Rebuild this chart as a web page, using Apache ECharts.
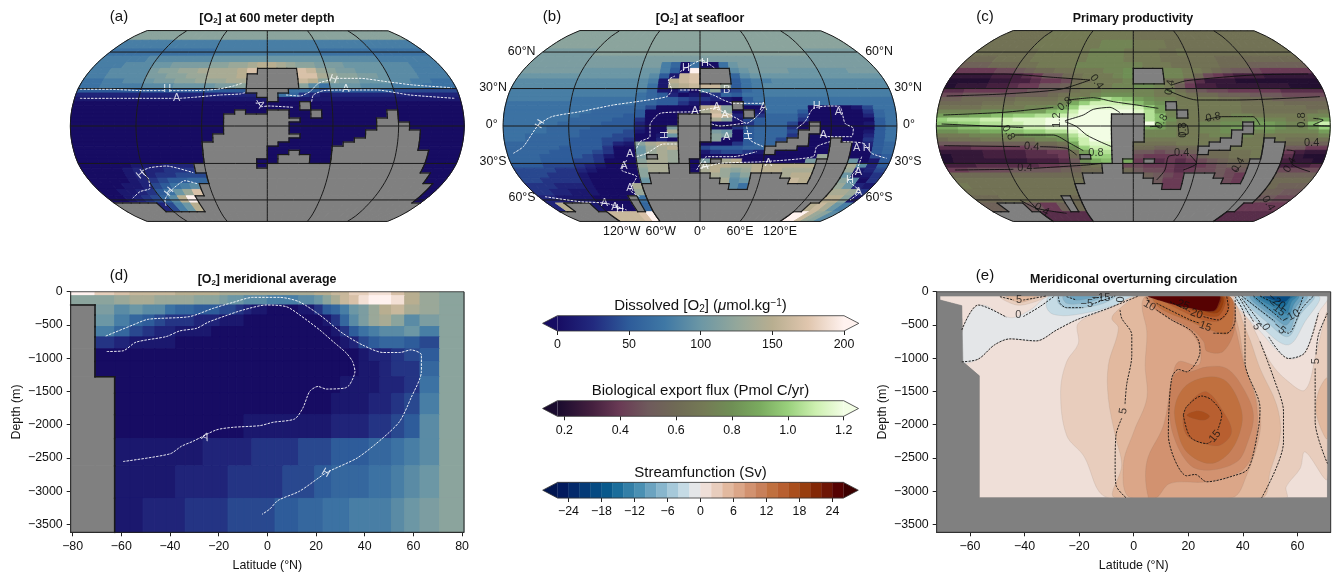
<!DOCTYPE html>
<html>
<head>
<meta charset="UTF-8">
<title>Ocean oxygen panels</title>
<script src="https://cdn.jsdelivr.net/npm/echarts@6/dist/echarts.min.js"></script>
<style>
html, body { margin: 0; padding: 0; background: #fff; }
#chart { width: 1338px; height: 573px; }
</style>
</head>
<body>
<div id="chart"></div>
<script>
// one char per model cell, 36 longitudes by 36 sin(lat) rows, north at the top
// '#' is land, otherwise parseInt(char, 36) * 10 = [O2]
const o2At600 = [
"cccccc cccccc cccccc cccccc cccccc cccccc",
"888888 888888 888888 888888 888888 888888",
"777777 777777 888888 888888 777777 777777",
"888889 999999 aaaaaa aaaaaa 999999 888888",
"888999 aabbbb ccddef fedccb bbaaaa 999888",
"889999 bccdde eeefh# ###hgd cbbaaa 999888",
"889999 bbccdd eeef## ###hhe dccbba 999888",
"778899 abbccd ddee## ###gfc cbbaaa 998877",
"778888 999aaa abbc## ###c97 aaa999 888777",
"555555 555555 5555## ##7754 555555 444444",
"222222 222222 22222# #76321 222222 222222",
"111111 111111 111111 #11111 111111 111111",
"000000 000000 000000 000#00 000000 000000",
"000000 000000 000000 000#00 000000 000000",
"000000 000000 000#00 ##00#0 00000# 000000",
"000000 000000 00#### ##00#0 00000# 000000",
"000000 000000 00#### ###000 0000## 000000",
"000000 000000 00#### ##0000 0000## #00000",
"000000 000000 00#### ##0000 0000## #00000",
"000000 000000 00#### ##0000 000### ##0000",
"000000 000000 0##### ###000 000### ##0000",
"000000 000000 0##### ##0000 00#### ##0000",
"000000 000000 ###### #00000 0##### ##0000",
"000000 000000 ###### 000000 ###### ##0000",
"000000 000000 ###### 00#000 ###### ###000",
"000000 000000 ###### 0###00 ###### ###000",
"000000 000000 #####0 0###00 ###### ###000",
"000001 11222# #####0 ###### ###### ###000",
"000012 22333# ###### ###### ###### ###000",
"000012 233444 ###### ###### ###### ####00",
"000012 345566 ###### ###### ###### ####00",
"000112 45789# ###### ###### ###### #####0",
"001123 57adh# ###### ###### ###### #####0",
"001234 69fk## ###### ###### ###### #####0",
"#####2 48af## ###### ###### ###### ######",
"###### ###### ###### ###### ###### ######"];

const o2AtSeafloor = [
"cccccc cccccc cccccc cccccc cccccc cccccc",
"cccccc cccccc cccccc cccccc cccccc cccccc",
"bbbbbb cccccc cccccc cccccc cccccc bbbbbb",
"bbbbbb bbbbbb bbbbbb bbbbbb bbbbbb bbbbbb",
"bbbbbb bbbbbb bb8607 007abb bbbbbb bbbbbb",
"bbbbbb aaaaaa aa850k ###9ab bbbaaa aaabbb",
"aaaaaa aaaaaa a951gh ###69a aaaaaa aaaaaa",
"999999 999999 981fgh ###578 899999 999999",
"999999 999999 971efg ggd578 999999 999999",
"888888 888888 861130 9c3467 888888 888888",
"888888 888888 765201 136577 888888 888888",
"888888 777777 765543 321057 777777 777777",
"777777 777777 665531 100#56 777777 777777",
"777777 777666 640000 fgc#00 777700 001477",
"777777 776666 500000 egc0#1 777500 000367",
"777777 766665 5000## #hg2#3 666400 000267",
"777777 666655 3000## #ec145 666300 000057",
"777776 666555 2000## #00035 6640#0 000157",
"777766 665555 200b## #00356 6630#0 000057",
"777766 655554 100e## #ba056 664##0 000157",
"776666 655544 001a## #cb056 663#00 000257",
"776666 555443 0020## #c0056 64##00 #00357",
"666666 555421 cefe## 000356 6###00 ##0256",
"666665 555300 adef## 455566 ###000 ##0156",
"666655 554300 aded## 134431 #00000 ##0056",
"666555 543100 b#ed## 000000 00000d ##0045",
"666555 443000 ceed#0 b#ef00 0000b# ##a015",
"555444 321000 dee##0 effeef fffff# ##e925",
"444433 210000 cee##0 efdcdf ffeee# ##d124",
"444333 100000 c##### #edac# ##eff# ##a013",
"443333 100000 a##### ##e9a# ###gf# ##c903",
"333222 10000e ###### ###97# ###### ##da21",
"332211 10000d ###### ###### ###### ##eed3",
"221111 0000#7 ###### ###### ###### ##ffc1",
"2f###1 0000#6 ###### ###### ###### #fgea8",
"###### gggghk ###### ###### ###### kkgdc9"];

// parseInt(char, 36) * 0.05 = export flux; land comes from the seafloor mask
const exportFlux = [
"dddddd eeeeee eeeeee dddddd dddddd dddddd",
"dddddd eeeeee eeffff eeeedd dddddd dddddd",
"dddddd deeeee effffe eeedde dddddd dddddd",
"cccddd deeeee effffe eeeddd dddccc cccccc",
"bbbccc ddeeee ffffff feeedd dddccc bbbbbb",
"888899 abccdd eeeffg fffffe edcbaa 988888",
"555566 678aac deeefg fffffe c98766 655555",
"444455 667889 cdeeef fffdd9 755544 444444",
"455566 788aab deeeff ggfeb8 665555 555444",
"778888 99aabb deefff ffefdb a99888 887777",
"99aaaa abbbcd eefggg ffeeed ccbbba aa9999",
"bbcccc cdddde fhilkj hgffee eeddcc cbbbbb",
"ccccdd deeeef ikmmml jhgfee eeeedd ddcccc",
"ddddee eeffgh knnnnn mkhfee eeeedd ddddcc",
"ffffgg gghhjk mooooo nlhfee eeeedd ddddde",
"hhhiij jkkllm nooooo oljfee eeeffe eeeeff",
"klllmm mnnnoo oooooo oljgee eeffgg ffeefi",
"jjkkll mmnnoo oooooo ooifee ffgghh hgffjm",
"iijjkk llmmnn oooooo lihfee ffghhh hgffhk",
"gghhii jjkkll nooooo ffffee ffggff gffffh",
"eeefff ffgghh lnoooo ffffee effffe eeeeef",
"cdddee eeeffg kmoooo feeeee eeeeee eedddd",
"aaabbb bbbccd imnnoo ddddee eeeeee eeccbb",
"777888 889aab gkmmnn ccbbcc ddeeee ddaa88",
"555566 667788 dhklln aa9aab bccdde ee8655",
"455566 667778 chkklk 988889 bccdde e97544",
"455555 556667 agijji 877878 9abccd d96554",
"666777 777889 acdee9 988877 89abba 986667",
"889999 aaaaab bccccc a99878 99a9aa aa9999",
"cccccc cccccc cccccc cba988 8aa988 bbbbbb",
"dddddd dddddd dddddd cba888 9ba988 cccccc",
"eddddd dddddd dddddd cba889 abb999 cccbbb",
"dddddd dddddd dddddd ccbbbb bbbbbb bbbbaa",
"cccddd ddddcc cccccc bbbbbb bbbaaa aaaa99",
"bbbbaa a88bcc cccccc bbbbaa aa8888 888888",
"aaaa88 777777 cccccc aaaaaa 997777 777777"];

// meridional mean [O2], columns south to north, rows top to bottom
const o2Section = [
"kihggg gfffff eeeeee eeeeee ffggii jjhfdc",
"ccdeed dddccc baa999 888899 aceghj kkjfdc",
"#b9a99 766555 443211 000011 3568ab dfgedc",
"#a8654 333222 111000 000000 01369b dec9bc",
"#86432 211110 000000 000000 001357 899a8c",
"#32111 100000 000000 000000 000124 56654c",
"#00000 000000 000000 000000 000001 22345c",
"#00000 000000 000000 000000 000001 12336c",
"##0000 000000 000000 000000 000111 12237c",
"##0000 000000 000000 000000 001111 22348c",
"##0000 000000 000111 111111 112222 33459c",
"##1111 111122 222233 333344 445555 66789c",
"##1111 122222 233333 334444 556666 7789ac",
"##1122 223333 344444 455566 677788 889abc"];
const sectionDepths = [0,-60,-200,-350,-525,-680,-860,-1050,-1280,-1530,-1850,-2210,-2620,-3110,-3620];

// filled streamfunction levels [level, outline of [lat, depth]], painted in order
const mocOcean = [[-71,-65],[71,-65],[71,-3100],[-56.6,-3100],[-56.6,-1265],[-62.6,-1055],[-63,-210],[-71,-125]];
const mocLand = [
[[-72.2,0],[72.2,0],[72.2,-65],[-72.2,-65]],
[[72.2,-65],[72.2,-3620],[71,-3620],[71,-65]],
[[-72.2,-65],[-71,-65],[-71,-125],[-63,-210],[-62.6,-1055],[-56.6,-1265],[-56.6,-3100],[71,-3100],[71,-3620],[-72.2,-3620]]];
const mocFilled = [
[-1,[[-63,-1055],[-57,-1015],[-51,-800],[-45.4,-710],[-35.6,-740],[-28.2,-575],[-21,-425],[-8.7,-240],[1.7,-65],[-30.7,-65],[-38,-275],[-45.4,-390],[-56.4,-200],[-62.5,-550]]],
[3,[[-49,-65],[-43,-200],[-36.8,-160],[-32,-65]]],
[5,[[-46.6,-65],[-42.3,-160],[-38,-125],[-35,-65]]],
[-3,[[-30.7,-65],[-32,-225],[-29.5,-340],[-22,-350],[-8.7,-225],[0,-65]]],
[-5,[[-27.6,-65],[-27.6,-175],[-24.6,-250],[-18.5,-240],[-11,-175],[-6.8,-65]]],
[-7,[[-25.8,-65],[-24.6,-175],[-18.5,-175],[-13.6,-125],[-11,-65]]],
[-9,[[-23.3,-65],[-21.5,-125],[-16,-100],[-13.6,-65]]],
[3,[[-9.3,-3100],[-18.5,-2460],[-24.6,-2160],[-26.8,-1505],[-24.6,-1055],[-20.3,-780],[-20.3,-475],[-8.7,-250],[1.1,-65],[36.6,-65],[43.9,-550],[50,-1055],[56,-1330],[62.8,-1480],[67,-905],[71,-325],[71,-2810],[62.8,-2410],[61,-2660],[55.9,-2935],[55.9,-3100]]],
[-1,[[37.2,-65],[47.5,-650],[56.7,-1005],[62.8,-905],[67.7,-325],[71,-65]]],
[-3,[[37.8,-65],[47.5,-550],[56.7,-800],[62.8,-450],[67.7,-65]]],
[-5,[[40.2,-65],[50,-500],[56.7,-675],[61,-350],[65.9,-65]]],
[-7,[[41.4,-65],[51.2,-450],[56.7,-600],[59.8,-300],[63.4,-65]]],
[-9,[[42.7,-65],[51.8,-400],[56.1,-500],[59.2,-250],[61.6,-65]]],
[-11,[[43.9,-65],[52.4,-350],[56.1,-425],[58.6,-200],[60.4,-65]]],
[-13,[[45.1,-65],[53,-275],[56.1,-325],[57.9,-150],[59.8,-65]]],
[-15,[[46.3,-65],[53,-210],[55.5,-225],[57.6,-100],[59.2,-65]]],
[-19,[[47.5,-65],[53,-150],[55.5,-150],[57.3,-65]]],
[5,[[-6.8,-3100],[-4.4,-2610],[-6.8,-2160],[-9.3,-1605],[-9.3,-1105],[-5.6,-550],[-8,-400],[-5,-250],[2.3,-65],[34,-65],[41.4,-600],[46.3,-1155],[52.4,-1705],[53.7,-2160],[50,-2710],[47,-3100]]],
[5,[[71,-1305],[67.7,-1505],[67,-1855],[71,-2210]]],
[7,[[-1,-3100],[-3.8,-2610],[0,-2110],[4.8,-1605],[4.2,-1105],[4.8,-600],[3,-200],[4.8,-65],[32.9,-65],[37.8,-450],[40.8,-1105],[45.7,-1705],[46.3,-2110],[41.4,-2760],[36,-3100]]],
[9,[[5.4,-3100],[4.8,-2560],[10.9,-2010],[13.9,-1355],[16.4,-1055],[23.7,-1105],[24.3,-855],[20.7,-600],[12.7,-400],[4.2,-100],[5.4,-65],[32.3,-65],[36.6,-450],[40.2,-1055],[45.1,-1705],[43.9,-2410],[39,-2710],[26.8,-2860],[13.3,-2885],[8.4,-3100]]],
[11,[[6,-65],[7.2,-250],[20.7,-550],[25.6,-750],[26.8,-895],[32.9,-895],[37.2,-500],[34.7,-65]]],
[11,[[13.9,-1330],[16.4,-1205],[20.7,-1205],[26.8,-1130],[34.1,-1155],[40.2,-1455],[43.9,-1855],[41.4,-2310],[37.8,-2560],[28,-2685],[20.7,-2610],[14.5,-2160],[13,-1655]]],
[13,[[7.2,-65],[9.7,-250],[20.7,-450],[28,-575],[34.7,-625],[36.6,-250],[34.7,-65]]],
[13,[[15.2,-1705],[19.4,-1405],[28,-1280],[34.1,-1355],[39,-1705],[39.6,-2010],[35.3,-2410],[28,-2585],[19.4,-2410],[15.8,-2060]]],
[15,[[9.7,-65],[20.7,-350],[30.4,-450],[34.7,-300],[34.1,-65]]],
[15,[[18.2,-1855],[21.9,-1605],[26.8,-1505],[32.9,-1805],[35.9,-2110],[31.7,-2310],[25.6,-2285],[19.4,-2160]]],
[17,[[19.4,-1855],[23.7,-1790],[27.8,-1865],[26.2,-1930],[22.5,-1915]]],
[17,[[10.3,-65],[20.7,-275],[30.4,-375],[33.5,-200],[32.9,-65]]],
[19,[[10.9,-65],[20.7,-225],[30.4,-325],[32.9,-175],[32.3,-65]]],
[21,[[11.5,-65],[20.7,-190],[29.2,-300],[32,-150],[31.7,-65]]],
[25,[[5.4,-65],[10.9,-150],[20.7,-250],[29.2,-290],[31.4,-150],[31.4,-65]]]
];

// contour lines; map panels are in projected units, sections in lat/depth
const contoursA = [
[[-562,110],[-472,110],[-372,106],[-307,106]],[[-293,106],[-222,106],[-152,110],[-102,120],[-77,128]],
[[56,93],[98,90],[128,103],[153,128],[188,138]],[[208,143],[278,143],[358,133],[438,123],[553,115]],
[[-562,83],[-472,83],[-372,83],[-282,83]],[[-262,83],[-222,86],[-142,93],[-82,96],[-67,100]],
[[133,73],[138,93],[168,106],[228,108]],[[244,108],[328,108],[428,93],[563,83]],
[[-32,78],[-17,58],[3,60],[78,56]],
[[-404,-217],[-382,-197],[-352,-187],[-357,-157],[-377,-137],[-352,-125],[-302,-120],[-222,-140]],
[[-304,-240],[-307,-222],[-287,-192],[-247,-164],[-207,-174]]];
const labelsA = [[-300,110,'H',0],[-272,85,'A',0],[198,140,'H',-20],[236,110,'A',0],[-22,65,'A',-60],[-379,-145,'H',40],[-294,-197,'H',50]];
const contoursB = [
[[-560,-82],[-530,-62],[-485,3],[-445,28],[-360,43],[-260,63],[-190,73],[-100,88],[-85,108],[-95,138],[-75,150]],
[[-60,108],[-10,108],[40,93],[70,78],[100,68],[190,68]],
[[-190,-67],[-180,-47],[-150,-32],[-150,3],[-120,38],[-20,43],[40,53],[80,38],[110,23],[140,8],[170,28],[195,58]],
[[35,6],[60,0],[130,8]],
[[140,-2],[150,-42],[190,-62]],
[[-10,-132],[20,-92],[100,-92],[170,-77]],
[[0,-127],[60,-112],[190,-107],[340,-92],[350,-62],[390,-47]],
[[290,-7],[315,13],[340,53],[390,60],[420,58],[435,8],[460,-7],[455,-32],[390,-32],[360,-27]],
[[430,-47],[490,-52],[515,-82],[560,-97]],
[[485,-92],[470,-132],[445,-162],[480,-197],[450,-222]],
[[-190,-92],[-160,-82],[-110,-54],[-70,-54]],
[[-220,-102],[-235,-132],[-190,-152],[-210,-192],[-180,-212]],
[[-465,-212],[-360,-227],[-280,-232],[-220,-252]],
[[-60,163],[-35,178],[5,198],[45,173]]];
const labelsB = [[-42,173,'H',0],[15,188,'H',0],[-105,-27,'H',90],[148,-30,'H',90],[-210,-84,'A',0],[-228,-120,'A',0],[-210,-187,'A',0],[-287,-232,'A',0],[-255,-242,'A',0],[-240,-249,'H',0],[50,58,'A',0],[-15,46,'A',0],[75,33,'A',0],[-480,6,'H',60],[15,-119,'A',0],[80,-34,'A',0],[190,58,'A',0],[205,-112,'A',0],[370,-27,'A',0],[415,43,'A',0],[350,60,'H',0],[470,-67,'A',0],[500,-67,'H',0],[475,-137,'A',0],[450,-162,'H',0],[475,-197,'A',0],[80,108,'B',0]];
const contoursC = [
[[-540,156],[-390,156],[-240,146],[-130,138]],
[[-560,90],[-390,96],[-220,110],[-130,138]],
[[-570,33],[-390,41],[-240,56]],
[[-195,78],[-120,85],[-60,73],[10,63],[75,53]],
[[-205,16],[-150,33],[-120,50],[-70,56],[-40,40]],
[[-205,13],[-170,-2],[-140,-27],[-100,-47],[-65,-62]],
[[-575,6],[-390,-2],[-330,-5]],
[[-355,-27],[-240,-27],[-190,-52],[-150,-74]],
[[-568,-59],[-340,-62]],[[-280,-62],[-200,-67],[-170,-87]],
[[-535,-132],[-360,-130]],[[-300,-127],[-140,-117],[-95,-112]],
[[115,123],[160,136],[360,153],[525,156]],
[[100,108],[150,88],[190,78],[310,78],[560,88]],
[[215,18],[265,28],[360,28],[380,3]],
[[135,3],[160,3],[165,-22],[140,-27],[135,3]],
[[50,-2],[80,0]],
[[70,-162],[95,-132],[105,-92],[125,-87]],[[170,-87],[190,-112],[150,-132]],
[[320,-122],[305,-137]],
[[460,-72],[485,-77],[475,-112],[530,-137]],
[[-340,-222],[-290,-247],[-200,-262]],
[[540,23],[570,18],[540,3],[590,0]]];
const labelsC = [[-110,133,'0.4',-55],[-205,66,'0.8',40],[-230,18,'1.2',90],[-375,-20,'0.8',-60],[-112,-80,'0.8',0],[-305,-62,'0.4',-5],[-325,-127,'0.4',0],[145,-80,'0.4',0],[240,26,'0.8',10],[535,-50,'0.4',0],[507,18,'0.8',90],[315,-117,'0.4',60],[470,-117,'0.4',60],[85,13,'0.8',60],[150,-12,'0.8',90],[110,116,'0.4',80],[-275,-250,'0.4',-30],[405,-232,'0.4',-60]];

const contourDH = [[-66.4,-667],[-55.2,-500],[-49,-415],[-32,-375],[-22.3,-250],[-14,-160],[-6,-85],[5,-85],[13,-150],[21.5,-350],[31,-627],[39,-800],[47.5,-915],[54.4,-915],[59,-875],[63.3,-950],[63.3,-1200],[59,-1600],[54.4,-1950],[47.5,-2200],[37,-2500],[24.2,-2725],[13.3,-3000],[4.4,-3140],[1,-3270],[-2.2,-3350]];
const contourDA = [[-66,-900],[-59.3,-890],[-54,-760],[-41.5,-675],[-36,-590],[-29,-550],[-24.4,-460],[-17,-360],[-10,-275],[-0.4,-200],[7.8,-225],[13.3,-350],[21.5,-575],[27,-750],[32.5,-925],[35,-1050],[36,-1200],[33.8,-1400],[31.8,-1450],[24.2,-1465],[20.8,-1425],[17.4,-1500],[14.6,-1750],[11.2,-1915],[2.3,-1965],[-3,-2015],[-14,-2040],[-21,-2080],[-30.5,-2250],[-35.3,-2325],[-40,-2440],[-59.3,-2555]];
const labelsD = [[-25.5,-2190,'A',-20],[24,-2725,'H',-30]];

const contoursE = [
[[-63,-1055],[-57,-1015],[-51,-800],[-45.4,-710],[-35.6,-740],[-28.2,-575],[-21,-425],[-8.7,-240],[1.7,-65]],
[[-63,-575],[-57,-200],[-46.6,-385]],[[-40.5,-375],[-34.4,-225],[-29,-65]],
[[-49,-75],[-44,-125]],[[-40.5,-125],[-36.8,-100],[-32,-65]],
[[-27.6,-75],[-27,-175],[-24.6,-240],[-18.5,-240]],[[-15.4,-190],[-11,-125],[-6.8,-65]],
[[-24.6,-75],[-21,-125]],[[-14.8,-100],[-11,-75]],
[[-5,-275],[-4.4,-400],[-0.7,-650],[-0.7,-955],[-2.6,-1405],[-3.2,-1705]],[[-4.4,-1905],[-6.5,-2160],[-6.8,-2610],[-6.5,-2910],[-2.8,-3100]],
[[4.8,-85],[5.7,-160]],[[8.4,-275],[13.9,-425],[20.7,-575],[23.7,-730],[24.3,-905],[19.4,-1205],[16.4,-1170],[13.9,-1305],[12.7,-2160],[19.4,-2770],[22.5,-2750],[26.8,-2860],[36.6,-2770],[42,-2660],[45.7,-2060],[46.3,-1755],[40.8,-1055],[40.8,-400],[37.2,-75]],
[[38.4,-65],[43.9,-450]],[[46.3,-750],[51.8,-1355],[54.9,-1805],[54.9,-2260],[46.9,-3100]],
[[39.6,-100],[47,-500]],[[49.5,-680],[56.7,-1005],[62.8,-915],[67.7,-325]],
[[39.6,-65],[51.8,-450]],[[55,-600],[56.7,-625],[61.7,-250],[65.9,-65]],
[[43.9,-65],[54.3,-425]],[[60,-300],[61,-200],[62.2,-65]],
[[46.3,-65],[51.8,-175]],
[[71,-325],[67.7,-650],[66.8,-950]],[[66.5,-1155],[66.5,-1955],[71,-2585]],
[[18.2,-1855],[19.4,-1730],[24.9,-1570],[28.6,-1630],[32.3,-1855],[30.8,-2080]],[[28.5,-2250],[26.8,-2285],[20.7,-2185],[18.2,-1855]],
[[8.4,-175],[20.7,-425],[24.3,-475]],[[29.2,-625],[34.1,-625],[37.2,-425],[37.2,-100]],
[[13.3,-150],[20.7,-300]],[[25.6,-375],[31,-425],[34.7,-250],[34.1,-75]]];
const labelsE = [[-42.3,-350,'0',0],[-42,-125,'5',0],[-17.2,-190,'−5',0],[-12,-100,'−15',0],[-4.6,-115,'0',90],[-3.8,-1795,'5',80],[5.8,-210,'10',-30],[18.2,-200,'25',-20],[23,-335,'20',-20],[26.2,-525,'15',-20],[29.8,-2175,'15',50],[45.1,-525,'5',-60],[48.4,-535,'0',-60],[53.4,-550,'−5',-40],[57.6,-375,'−10',30],[52.4,-250,'−15',-40],[52.4,-150,'−20',-40],[66.7,-1045,'5',90]];

// colour scales and axis ticks
const o2Ramp = [[0,'#170c63'],[25,'#222a7f'],[50,'#2e5c9a'],[75,'#3f78a5'],[100,'#6c97a5'],[125,'#93a79b'],[150,'#b8ae90'],[175,'#e0c6ae'],[200,'#fff2ef']];
const fluxRamp = [[0.175,'#1a0b2e'],[0.3,'#45203f'],[0.4,'#6a3b55'],[0.5,'#6f5a5c'],[0.6,'#6f6a55'],[0.7,'#747a55'],[0.8,'#6f8f55'],[0.9,'#7aab5f'],[1.0,'#99d07c'],[1.1,'#cdf0b0'],[1.2,'#f2fde4']];
const streamEdges = [-26,-24,-22,-20,-18,-16,-14,-12,-10,-8,-6,-4,-2,0,2,4,6,8,10,12,14,16,18,20,22,24,26];
const streamColors = ['#021a5e','#03296b','#043a77','#054a82','#08598c','#1a6d9b','#337fa7','#4a90b3','#6ba3c0','#88b6cd','#a6c9da','#c5dbe5','#e4e6e8','#efdfd8','#e8cdbd','#e2b99f','#dba688','#d29270','#c8805a','#c0703f','#b85f30','#aa4e1c','#983d0d','#832706','#6e1505','#560202'];
const depthTicks = [0,-500,-1000,-1500,-2000,-2500,-3000,-3500];
const latTicksD = [-80,-60,-40,-20,0,20,40,60,80];
const latTicksE = [-60,-40,-20,0,20,40,60];
const o2Ticks = [0,50,100,150,200];
const fluxTicks = [0.2,0.4,0.6,0.8,1.0,1.2];
const streamTicks = [-24,-18,-12,-6,0,6,12,18,24];

// Robinson table
const rbLat = [0,5,10,15,20,25,30,35,40,45,50,55,60,65,70,75,80,85,90];
const rbX = [1,.9986,.9954,.99,.9822,.973,.96,.9427,.9216,.8962,.8679,.835,.7986,.7597,.7186,.6732,.6213,.5722,.5322];
const rbY = [0,.062,.124,.186,.248,.31,.372,.434,.4958,.5571,.6176,.6769,.7346,.7903,.8435,.8936,.9394,.9761,1];
const MAP_X = 591, MAP_Y = 302, MAP_H = 286.5, LAT_CLIP = 81.2;

function robin(lon, lat) {
  const a = Math.abs(lat), i = Math.min(17, Math.floor(a / 5)), t = (a - rbLat[i]) / 5;
  const x = rbX[i] + (rbX[i + 1] - rbX[i]) * t, y = rbY[i] + (rbY[i + 1] - rbY[i]) * t;
  return [MAP_X * x * lon / 180, MAP_Y * y * Math.sign(lat)];
}
function edgeLat(k, clip) {
  const lat = Math.asin(1 - k / 18) * 180 / Math.PI;
  return Math.max(-clip, Math.min(clip, lat));
}
const mapCorner = (c, k) => robin(-180 + 10 * c, edgeLat(k, LAT_CLIP));
const sectionCorner = (c, k) => [-edgeLat(c, 80.8), sectionDepths[k]];
const strip = rows => rows.map(s => s.replace(/ /g, ''));

function rampColor(ramp, v) {
  v = Math.max(ramp[0][0], Math.min(ramp[ramp.length - 1][0], v));
  for (let i = 1; i < ramp.length; i++) {
    if (v <= ramp[i][0]) {
      const t = (v - ramp[i - 1][0]) / (ramp[i][0] - ramp[i - 1][0]);
      const a = echarts.color.parse(ramp[i - 1][1]), b = echarts.color.parse(ramp[i][1]);
      return 'rgb(' + [0, 1, 2].map(j => Math.round(a[j] + (b[j] - a[j]) * t)).join(',') + ')';
    }
  }
}
function streamColor(level) {
  return streamColors[streamEdges.findIndex((e, i) => level >= e && level < streamEdges[i + 1])];
}

function cellSeries(g, rows, mask, corner, colorOf) {
  const data = [];
  rows.forEach((row, r) => { for (let c = 0; c < row.length; c++) data.push([c, r]); });
  return {
    type: 'custom', xAxisIndex: g, yAxisIndex: g, silent: true, clip: true, data: data, animation: false,
    renderItem: function (p, api) {
      const c = data[p.dataIndex][0], r = data[p.dataIndex][1];
      const land = mask[r][c] === '#';
      const col = land ? '#808080' : colorOf(rows[r][c]);
      const pts = [corner(c, r), corner(c + 1, r), corner(c + 1, r + 1), corner(c, r + 1)].map(q => api.coord(q));
      return { type: 'polygon', shape: { points: pts }, style: { fill: col, stroke: col, lineWidth: 1 } };
    }
  };
}
// black edge wherever land meets sea
function coastSeries(g, mask, corner, width) {
  const segs = [];
  mask.forEach((row, r) => {
    for (let c = 0; c < row.length; c++) {
      if (row[c] !== '#') continue;
      if (r > 0 && mask[r - 1][c] !== '#') segs.push([[c, r], [c + 1, r]]);
      if (r < mask.length - 1 && mask[r + 1][c] !== '#') segs.push([[c, r + 1], [c + 1, r + 1]]);
      if (c > 0 && row[c - 1] !== '#') segs.push([[c, r], [c, r + 1]]);
      if (c < row.length - 1 && row[c + 1] !== '#') segs.push([[c + 1, r], [c + 1, r + 1]]);
    }
  });
  return {
    type: 'custom', xAxisIndex: g, yAxisIndex: g, silent: true, data: segs.map((s, i) => [i]), animation: false,
    renderItem: function (p, api) {
      const s = segs[p.dataIndex], a = api.coord(corner(s[0][0], s[0][1])), b = api.coord(corner(s[1][0], s[1][1]));
      return { type: 'line', shape: { x1: a[0], y1: a[1], x2: b[0], y2: b[1] }, style: { stroke: '#1a1a1a', lineWidth: width, lineCap: 'square' } };
    }
  };
}
function lineSeries(g, pts, color, width, dash, smooth) {
  return {
    type: 'line', xAxisIndex: g, yAxisIndex: g, data: pts, symbol: 'none', silent: true, animation: false, clip: true, smooth: smooth || false,
    lineStyle: { color: color, width: width, type: dash || 'solid' }
  };
}
function labelSeries(g, labels, color, size) {
  return {
    type: 'scatter', xAxisIndex: g, yAxisIndex: g, symbolSize: 0, silent: true, animation: false,
    data: labels.map(l => ({
      value: [l[0], l[1]],
      label: { show: true, position: 'inside', formatter: l[2], rotate: l[3], color: color, fontSize: size, fontFamily: FONT }
    }))
  };
}
function graticule(g) {
  const out = [], lats = [];
  for (let a = -LAT_CLIP; a <= LAT_CLIP; a += 3) lats.push(a);
  lats.push(LAT_CLIP);
  [-120, -60, 0, 60, 120].forEach(lon => out.push(lineSeries(g, lats.map(a => robin(lon, a)), '#1a1a1a', 1)));
  [-60, -30, 0, 30, 60].forEach(lat => {
    const pts = [];
    for (let lon = -180; lon <= 180; lon += 30) pts.push(robin(lon, lat));
    out.push(lineSeries(g, pts, '#1a1a1a', 1));
  });
  const ring = lats.map(a => robin(180, a)).concat(lats.slice().reverse().map(a => robin(-180, a)));
  ring.push(ring[0]);
  out.push(lineSeries(g, ring, '#1a1a1a', 1));
  return out;
}
const FONT = '"Liberation Sans", Arial, sans-serif';
const DASH_W = [2.5, 1.2];

const maskA = strip(o2At600), maskB = strip(o2AtSeafloor), fluxRows = strip(exportFlux), sectionRows = strip(o2Section);
const o2Col = ch => rampColor(o2Ramp, parseInt(ch, 36) * 10);
const fluxCol = ch => rampColor(fluxRamp, parseInt(ch, 36) * 0.05);

const series = [];
function addMap(g, rows, mask, colorOf, contours, labels, lineCol, lineW, dash, smooth) {
  series.push(cellSeries(g, rows, mask, mapCorner, colorOf));
  graticule(g).forEach(s => series.push(s));
  series.push(coastSeries(g, mask, mapCorner, 1.2));
  contours.forEach(c => series.push(lineSeries(g, c, lineCol, lineW, dash, smooth)));
  series.push(labelSeries(g, labels, lineCol, 11));
}
addMap(0, maskA, maskA, o2Col, contoursA, labelsA, '#fff', 0.9, DASH_W, 0.2);
addMap(1, maskB, maskB, o2Col, contoursB, labelsB, '#fff', 0.9, DASH_W, 0.2);
addMap(2, fluxRows, maskB, fluxCol, contoursC, labelsC, '#111', 0.9, null, 0.25);

// panel d
series.push(cellSeries(3, sectionRows, sectionRows, sectionCorner, o2Col));
series.push(coastSeries(3, sectionRows, sectionCorner, 1.6));
series.push(lineSeries(3, contourDH, '#fff', 0.9, DASH_W, 0.25));
series.push(lineSeries(3, contourDA, '#fff', 0.9, DASH_W, 0.25));
series.push(labelSeries(3, labelsD, '#fff', 11));
series.push(lineSeries(3, [[-80.8, 0], [80.8, 0], [80.8, -3620], [-80.8, -3620], [-80.8, 0]], '#222', 1));

// panel e
function polySeries(g, polys) {
  return {
    type: 'custom', xAxisIndex: g, yAxisIndex: g, silent: true, animation: false, data: polys.map((p, i) => [i]), clip: true,
    renderItem: function (p, api) {
      const item = polys[p.dataIndex];
      const flat = item[0] === null || item[0] === 'land';
      const fill = item[0] === null ? '#efdfd8' : item[0] === 'land' ? '#808080' : streamColor(item[0]);
      return {
        type: 'polygon', shape: { points: item[1].map(q => api.coord(q)), smooth: flat ? 0 : 0.35 },
        style: { fill: fill, stroke: item[0] === 'land' ? '#808080' : 'rgba(120,110,100,0.25)', lineWidth: 0.5 }
      };
    }
  };
}
series.push(polySeries(4, [[null, mocOcean]].concat(mocFilled)));
contoursE.forEach(c => series.push(lineSeries(4, c, '#111', 0.9, [2.2, 1.2], 0.3)));
series.push(labelSeries(4, labelsE, '#111', 11));
// land goes over the rounded fills so they stop at the basin edge
series.push(polySeries(4, mocLand.map(p => ['land', p])));
series.push(lineSeries(4, [[-72.2, 0], [72.2, 0], [72.2, -3620], [-72.2, -3620], [-72.2, 0]], '#333', 1));

// colour bars
function barSeries(g, lo, hi, fillOf, cells, under, over) {
  return [{
    type: 'custom', xAxisIndex: g, yAxisIndex: g, silent: true, animation: false, data: cells.map((c, i) => [i]),
    renderItem: function (p, api) {
      const c = cells[p.dataIndex], a = api.coord([c[0], 1]), b = api.coord([c[1], 0]);
      return { type: 'rect', shape: { x: a[0], y: a[1], width: b[0] - a[0], height: b[1] - a[1] }, style: { fill: fillOf(c), stroke: typeof fillOf(c) === 'string' ? fillOf(c) : null, lineWidth: 0.4 } };
    }
  }, {
    type: 'custom', xAxisIndex: g, yAxisIndex: g, silent: true, animation: false, data: [[0]],
    renderItem: function (p, api) {
      const a = api.coord([lo, 1]), b = api.coord([hi, 0]), mid = (a[1] + b[1]) / 2, tip = 14.8;
      return { type: 'group', children: [
        { type: 'polygon', shape: { points: [[a[0], a[1]], [a[0], b[1]], [a[0] - tip, mid]] }, style: { fill: under } },
        { type: 'polygon', shape: { points: [[b[0], a[1]], [b[0], b[1]], [b[0] + tip, mid]] }, style: { fill: over } },
        { type: 'polygon', shape: { points: [[a[0], a[1]], [b[0], a[1]], [b[0] + tip, mid], [b[0], b[1]], [a[0], b[1]], [a[0] - tip, mid]] }, style: { fill: null, stroke: '#333', lineWidth: 0.8 } }
      ] };
    }
  }];
}
function gradientOf(ramp) {
  const lo = ramp[0][0], hi = ramp[ramp.length - 1][0];
  return new echarts.graphic.LinearGradient(0, 0, 1, 0, ramp.map(s => ({ offset: (s[0] - lo) / (hi - lo), color: s[1] })));
}
barSeries(5, 0, 200, () => gradientOf(o2Ramp), [[0, 200]], o2Ramp[0][1], o2Ramp[8][1]).forEach(s => series.push(s));
barSeries(6, 0.175, 1.2, () => gradientOf(fluxRamp), [[0.175, 1.2]], fluxRamp[0][1], fluxRamp[10][1]).forEach(s => series.push(s));
barSeries(7, -26, 26, c => streamColors[streamEdges.indexOf(c[0])], streamEdges.slice(0, -1).map((e, i) => [e, streamEdges[i + 1]]), '#011550', '#3c0000').forEach(s => series.push(s));

// layout
const mapGrids = [[70.3, 30.5], [503, 30.5], [936.3, 30.5]].map(p => ({ left: p[0], top: p[1], width: 394, height: 191 }));
const grids = mapGrids.concat([
  { left: 70.7, top: 291.7, width: 393.3, height: 240.6 },
  { left: 936.7, top: 291.7, width: 394, height: 240.6, show: true, backgroundColor: '#808080', borderWidth: 0 },
  { left: 557.4, top: 315.7, width: 286.6, height: 15.3 },
  { left: 557.4, top: 400.7, width: 286.3, height: 15.6 },
  { left: 557.5, top: 482.4, width: 286, height: 15.6 }
]);
const tickFmt = v => String(v).replace('-', '−');
function plotAxis(lo, hi, ticks, name, gap, fmt) {
  return {
    type: 'value', min: lo, max: hi, name: name, nameLocation: 'middle', nameGap: gap,
    nameTextStyle: { fontFamily: FONT, fontSize: 12.4, color: '#111' },
    splitLine: { show: false }, axisLine: { show: true, onZero: false, lineStyle: { color: '#222', width: 1 } },
    axisTick: { show: true, customValues: ticks, length: 4, lineStyle: { color: '#222', width: 1 } },
    axisLabel: { customValues: ticks, formatter: fmt || tickFmt, margin: 8, fontFamily: FONT, fontSize: 12.4, color: '#111' }
  };
}
const hidden = (lo, hi) => ({ type: 'value', min: lo, max: hi, show: false, splitLine: { show: false } });
const xAxes = [0, 1, 2].map(i => Object.assign(hidden(-MAP_X, MAP_X), { gridIndex: i })).concat([
  Object.assign(plotAxis(-80.8, 80.8, latTicksD, 'Latitude (°N)', 27), { gridIndex: 3 }),
  Object.assign(plotAxis(-72.2, 72.2, latTicksE, 'Latitude (°N)', 27), { gridIndex: 4 }),
  Object.assign(plotAxis(0, 200, o2Ticks, '', 0), { gridIndex: 5 }),
  Object.assign(plotAxis(0.175, 1.2, fluxTicks, '', 0, v => v.toFixed(1)), { gridIndex: 6 }),
  Object.assign(plotAxis(-26, 26, streamTicks, '', 0), { gridIndex: 7 })
]);
xAxes.slice(5).forEach(a => { a.axisLine.show = false; });
const yAxes = [0, 1, 2].map(i => Object.assign(hidden(-MAP_H, MAP_H), { gridIndex: i })).concat([
  Object.assign(plotAxis(-3620, 0, depthTicks, 'Depth (m)', 48), { gridIndex: 3 }),
  Object.assign(plotAxis(-3620, 0, depthTicks, 'Depth (m)', 48), { gridIndex: 4 }),
  Object.assign(hidden(0, 1), { gridIndex: 5 }), Object.assign(hidden(0, 1), { gridIndex: 6 }), Object.assign(hidden(0, 1), { gridIndex: 7 })
]);

const boldRich = { b: { fontFamily: FONT, fontWeight: 'bold', fontSize: 12.4, fill: '#111' }, s: { fontFamily: FONT, fontWeight: 'bold', fontSize: 8, fill: '#111', padding: [5, 0, 0, 0] } };
const barRich = {
  n: { fontFamily: FONT, fontSize: 15, fill: '#111' }, s: { fontFamily: FONT, fontSize: 10, fill: '#111', padding: [6, 0, 0, 0] },
  u: { fontFamily: FONT, fontSize: 10, fill: '#111', padding: [0, 0, 6, 0] }, i: { fontFamily: FONT, fontStyle: 'italic', fontSize: 15, fill: '#111' }
};
function txt(x, y, text, size, rich) {
  return { type: 'text', x: x, y: y, z: 50, silent: true, style: { text: text, fontFamily: FONT, fontSize: size, fill: '#111', align: 'center', verticalAlign: 'middle', rich: rich } };
}
const texts = [
  txt(119, 17, '(a)', 15), txt(552, 17, '(b)', 15), txt(985, 17, '(c)', 15), txt(119, 275.7, '(d)', 15), txt(985, 275.7, '(e)', 15),
  txt(267, 18.5, '{b|[O}{s|2}{b|] at 600 meter depth}', 12, boldRich),
  txt(700, 18.5, '{b|[O}{s|2}{b|] at seafloor}', 12, boldRich),
  txt(1133, 19, '{b|Primary productivity}', 12, boldRich),
  txt(267, 280, '{b|[O}{s|2}{b|] meridional average}', 12, boldRich),
  txt(1133.7, 280, '{b|Meridiconal overturning circulation}', 12, boldRich),
  txt(700.5, 306, '{n|Dissolved [O}{s|2}{n|] (}{i|μ}{n|mol.kg}{u|−1}{n|)}', 15, barRich),
  txt(700.5, 391, 'Biological export flux (Pmol C/yr)', 15),
  txt(700.5, 473, 'Streamfunction (Sv)', 15),
  txt(521.7, 51.7, '60°N', 12.4), txt(879, 51.7, '60°N', 12.4),
  txt(493, 87.7, '30°N', 12.4), txt(908, 87.7, '30°N', 12.4),
  txt(491.7, 125, '0°', 12.4), txt(909, 125, '0°', 12.4),
  txt(493, 162, '30°S', 12.4), txt(908, 162, '30°S', 12.4),
  txt(522, 198, '60°S', 12.4), txt(879, 198, '60°S', 12.4),
  txt(621.7, 231.7, '120°W', 12.4), txt(660.7, 231.7, '60°W', 12.4), txt(700, 231.7, '0°', 12.4), txt(740, 231.7, '60°E', 12.4), txt(780, 231.7, '120°E', 12.4)
];

const chart = echarts.init(document.getElementById('chart'), null, { renderer: 'canvas' });
chart.setOption({
  animation: false, backgroundColor: '#fff', grid: grids, xAxis: xAxes, yAxis: yAxes, series: series,
  graphic: { elements: texts }
});
</script>
</body>
</html>
